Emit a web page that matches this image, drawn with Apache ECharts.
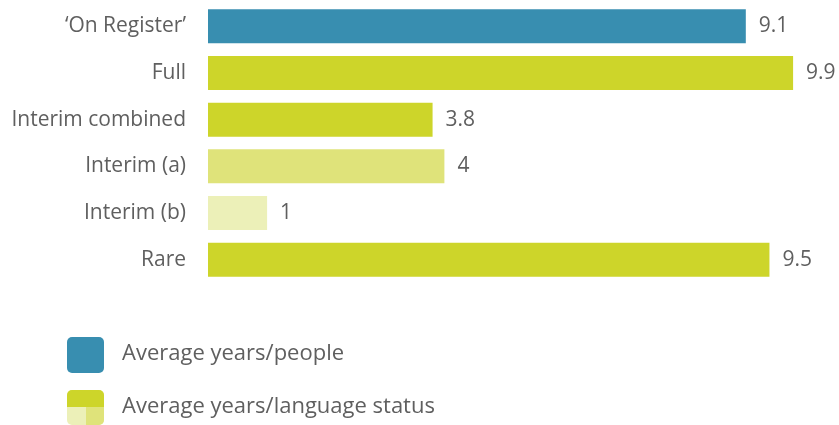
<!DOCTYPE html>
<html>
<head>
<meta charset="utf-8">
<script src="https://cdn.jsdelivr.net/npm/echarts@6/dist/echarts.min.js"></script>
<style>
  html, body { margin: 0; padding: 0; background: #fff; }
  #chart { width: 839px; height: 425px; }
</style>
</head>
<body>
<div id="chart"></div>
<script>
// Categories, top to bottom
const categories = ['\u2018On Register\u2019', 'Full', 'Interim combined', 'Interim (a)', 'Interim (b)', 'Rare'];
// Average years per person (only the register row)
const peopleValues = [9.1, '-', '-', '-', '-', '-'];
// Average years per language status
const statusValues = ['-', 9.9, 3.8, 4, 1, 9.5];
const legendNames = ['Average years/people', 'Average years/language status'];

const BLUE = '#388eb0';
const LIME = '#cdd52a';
const LIME_MID = '#dfe37a';
const LIME_LIGHT = '#ecf0b8';
// Fill for each status row (index aligned with categories)
const statusColors = [LIME, LIME, LIME, LIME_MID, LIME_LIGHT, LIME];

const TEXT = '#5f5f5f';
const FONT = '"Open Sans", sans-serif';
const FS = 21;
const LEGEND_FS = 22;

const chart = echarts.init(document.getElementById('chart'));

const labelStyle = {
  show: true,
  position: 'right',
  distance: 13,
  color: TEXT,
  fontSize: FS,
  fontFamily: FONT
};

chart.setOption({
  animation: false,
  grid: { left: 208, right: 40, top: 3, height: 280, containLabel: false },
  xAxis: {
    type: 'value', min: 0, max: 10,
    show: false
  },
  yAxis: {
    type: 'category',
    data: categories,
    inverse: true,
    axisLine: { show: false },
    axisTick: { show: false },
    axisLabel: { color: TEXT, fontSize: FS, fontFamily: FONT, margin: 22 }
  },
  series: [
    {
      name: legendNames[0],
      type: 'bar',
      stack: 'all',
      barWidth: 34,
      data: peopleValues,
      itemStyle: { color: BLUE },
      label: labelStyle
    },
    {
      name: legendNames[1],
      type: 'bar',
      stack: 'all',
      barWidth: 34,
      data: statusValues,
      itemStyle: { color: p => statusColors[p.dataIndex] },
      label: labelStyle
    }
  ],
  graphic: [
    // people swatch
    { type: 'rect', left: 67, top: 337, shape: { width: 37, height: 36, r: 5 }, style: { fill: BLUE } },
    { type: 'text', left: 122, top: 343, style: { text: legendNames[0], fill: TEXT, fontSize: LEGEND_FS, fontFamily: FONT } },
    // language status swatch: three shades of the status colour
    {
      type: 'group', left: 67, top: 390,
      children: [
        { type: 'rect', shape: { x: 0, y: 0, width: 37, height: 35, r: 5 }, style: { fill: LIME_LIGHT } },
        { type: 'rect', shape: { x: 19, y: 17, width: 18, height: 18, r: [0, 0, 5, 0] }, style: { fill: LIME_MID } },
        { type: 'rect', shape: { x: 0, y: 0, width: 37, height: 17, r: [5, 5, 0, 0] }, style: { fill: LIME } }
      ]
    },
    { type: 'text', left: 122, top: 396, style: { text: legendNames[1], fill: TEXT, fontSize: LEGEND_FS, fontFamily: FONT } }
  ]
});
</script>
</body>
</html>
